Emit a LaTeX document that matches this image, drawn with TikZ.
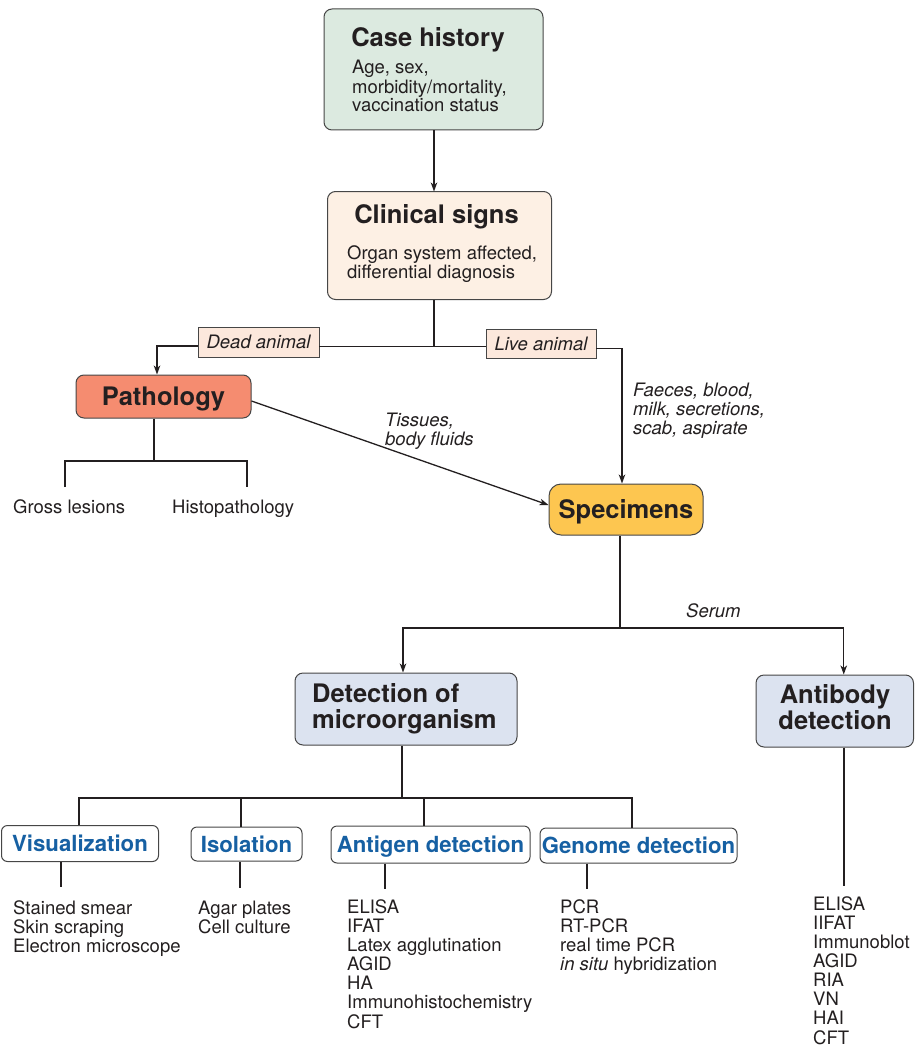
\documentclass[tikz,border=0pt]{standalone}
\usepackage{fontspec}
\setmainfont{TeX Gyre Heros}
\usetikzlibrary{arrows.meta}

\definecolor{ink}{RGB}{35,31,32}
\definecolor{frame}{RGB}{70,70,70}
\definecolor{histfill}{RGB}{220,234,224}
\definecolor{signfill}{RGB}{253,240,228}
\definecolor{tagfill}{RGB}{252,232,220}
\definecolor{pathfill}{RGB}{245,140,112}
\definecolor{specfill}{RGB}{253,198,80}
\definecolor{detfill}{RGB}{220,227,240}
\definecolor{headblue}{RGB}{22,96,163}

\newcommand\txtsize{\fontsize{18.5}{18.7}\selectfont}
\newcommand\headsize{\fontsize{25.5}{26}\selectfont}
\newcommand\subsize{\fontsize{22.2}{23}\selectfont}
\newcommand\lines[1]{\begin{tabular}[t]{@{}l@{}}#1\end{tabular}}
\newcommand\clines[1]{\begin{tabular}[t]{@{}c@{}}#1\end{tabular}}

\begin{document}
\begin{tikzpicture}[x=1pt,y=-1pt,
  conn/.style={draw=ink, line width=1.3pt},
  tip/.style={-{Stealth[length=9pt,width=6.5pt,inset=2.5pt]}},
  bigbox/.style={draw=frame, line width=1pt, rounded corners=8pt, inner sep=0pt},
  headtxt/.style={inner sep=0pt, font=\headsize\bfseries, text=ink},
  tagbox/.style={draw=frame, line width=0.9pt, fill=tagfill, inner sep=0pt,
    font=\txtsize\itshape, text=ink, text height=13.3pt, text depth=0pt},
  subbox/.style={draw=frame, line width=1pt, rounded corners=6pt, fill=white,
    inner sep=0pt, font=\subsize\bfseries, text=headblue, text height=16pt, text depth=0pt},
  plain/.style={inner sep=0pt, font=\txtsize, text=ink, anchor=base west},
  slant/.style={inner sep=0pt, font=\txtsize\itshape, text=ink, anchor=base west},
]
\useasboundingbox (0,0) rectangle (914,1046);

% ---------- case history ----------
\node[bigbox, fill=histfill, minimum width=219pt, minimum height=121pt] (hist) at (433.5,69.5) {};
\node[headtxt, anchor=base] (histT) at (428,47) {Case history};
\node[plain] (histB) at (352,74) {\lines{Age, sex,\\morbidity/mortality,\\vaccination status}};

% ---------- clinical signs ----------
\node[bigbox, fill=signfill, minimum width=224pt, minimum height=108pt] (clin) at (439.5,245.5) {};
\node[headtxt, anchor=base] (clinT) at (436.5,223) {Clinical signs};
\node[plain] (clinB) at (347,259) {\lines{Organ system affected,\\differential diagnosis}};

% ---------- dead / live ----------
\node[tagbox, minimum width=121pt, minimum height=30pt] (dead) at (258.5,342) {Dead animal};
\node[tagbox, minimum width=110pt, minimum height=29pt] (live) at (541,343.5) {Live animal};

% ---------- pathology / specimens ----------
\node[bigbox, headtxt, fill=pathfill, minimum width=175pt, minimum height=43pt,
  text height=18.4pt, text depth=0pt] (path) at (163.5,396.5) {Pathology};
\node[bigbox, headtxt, fill=specfill, rounded corners=12pt, minimum width=154pt,
  minimum height=51pt, text height=18.4pt, text depth=0pt] (spec) at (626,509.5) {Specimens};

\node[plain] (gross) at (13,513) {Gross lesions};
\node[plain] (histo) at (172,513) {Histopathology};
\node[slant] (tis) at (385,426) {\lines{Tissues,\\body fluids}};
\node[slant] (fae) at (633,396) {\lines{Faeces, blood,\\milk, secretions,\\scab, aspirate}};
\node[slant] (serum) at (686,617) {Serum};

% ---------- detection / antibody ----------
\node[bigbox, fill=detfill, minimum width=222pt, minimum height=72pt] (detect) at (406,709) {};
\node[headtxt, anchor=base west] (detectT) at (312,702) {\lines{Detection of\\microorganism}};
\node[bigbox, fill=detfill, minimum width=157.5pt, minimum height=72pt] (anti) at (834.75,711) {};
\node[headtxt, anchor=base] (antiT) at (835,703) {\clines{Antibody\\detection}};

% ---------- method boxes ----------
\node[subbox, minimum width=157pt, minimum height=36pt] (vis) at (80,843.5) {Visualization};
\node[subbox, minimum width=111pt, minimum height=34pt] (iso) at (246.5,844) {Isolation};
\node[subbox, minimum width=199pt, minimum height=37pt] (ant) at (430.5,844.5) {Antigen detection};
\node[subbox, minimum width=197pt, minimum height=35pt] (gen) at (638.5,845.5) {Genome detection};

% ---------- method lists ----------
\node[plain] (visL) at (13,914) {\lines{Stained smear\\Skin scraping\\Electron microscope}};
\node[plain] (isoL) at (198,914) {\lines{Agar plates\\Cell culture}};
\node[plain] (antL) at (347,913) {\lines{ELISA\\IFAT\\Latex agglutination\\AGID\\HA\\Immunohistochemistry\\CFT}};
\node[plain] (genL) at (560,913) {\lines{PCR\\RT-PCR\\real time PCR\\\textit{in situ} hybridization}};
\node[plain, font=\fontsize{18.5}{18.4}\selectfont] (abL) at (813,910.5) {\lines{ELISA\\IIFAT\\Immunoblot\\AGID\\RIA\\VN\\HAI\\CFT}};

% ---------- connectors ----------
\draw[conn,tip] (hist.south -| 434,0) -- (434,191.5);

\coordinate (junc) at (434,346.5);
\draw[conn] (junc |- clin.south) -- (junc);
\draw[conn] (junc) -- (junc -| dead.east);
\draw[conn] (junc) -- (junc -| live.west);
\draw[conn,tip] ([yshift=-4pt]dead.west) -| ([xshift=-6.5pt]path.north);
\draw[conn,tip] ([yshift=-5pt]live.east) -| ([xshift=-4pt]spec.north);
\draw[conn,tip] ([yshift=-4.5pt]path.east) -- ([yshift=4.5pt]spec.west);

% pathology branches
\coordinate (pj) at (154,461);
\coordinate (glT) at (65,487);
\coordinate (hpT) at (247,487);
\draw[conn] (pj |- path.south) -- (pj);
\draw[conn] (glT) |- (pj) -| (hpT);

% serum split
\coordinate (sj) at (620,628);
\draw[conn] (sj |- spec.south) -- (sj);
\draw[conn,tip] (sj) -| ([xshift=-3pt]detect.north);
\draw[conn,tip] (sj) -| ([xshift=9pt]anti.north);

% detection branches
\coordinate (dj) at (402,798);
\coordinate (visN) at (79,798);
\coordinate (isoN) at (241,798);
\coordinate (antN) at (424,798);
\coordinate (genN) at (632,798);
\draw[conn] (dj |- detect.south) -- (dj);
\draw[conn] (visN |- vis.north) -- (visN) -- (genN) -- (genN |- gen.north);
\draw[conn] (isoN) -- (isoN |- iso.north);
\draw[conn] (antN) -- (antN |- ant.north);

% ticks down to the lists
\coordinate (visD) at (61,887);
\coordinate (isoD) at (240,888);
\coordinate (antD) at (385,889);
\coordinate (genD) at (587,889);
\coordinate (abD) at (844,886);
\draw[conn] (visD |- vis.south) -- (visD);
\draw[conn] (isoD |- iso.south) -- (isoD);
\draw[conn] (antD |- ant.south) -- (antD);
\draw[conn] (genD |- gen.south) -- (genD);
\draw[conn] (abD |- anti.south) -- (abD);
\end{tikzpicture}
\end{document}
